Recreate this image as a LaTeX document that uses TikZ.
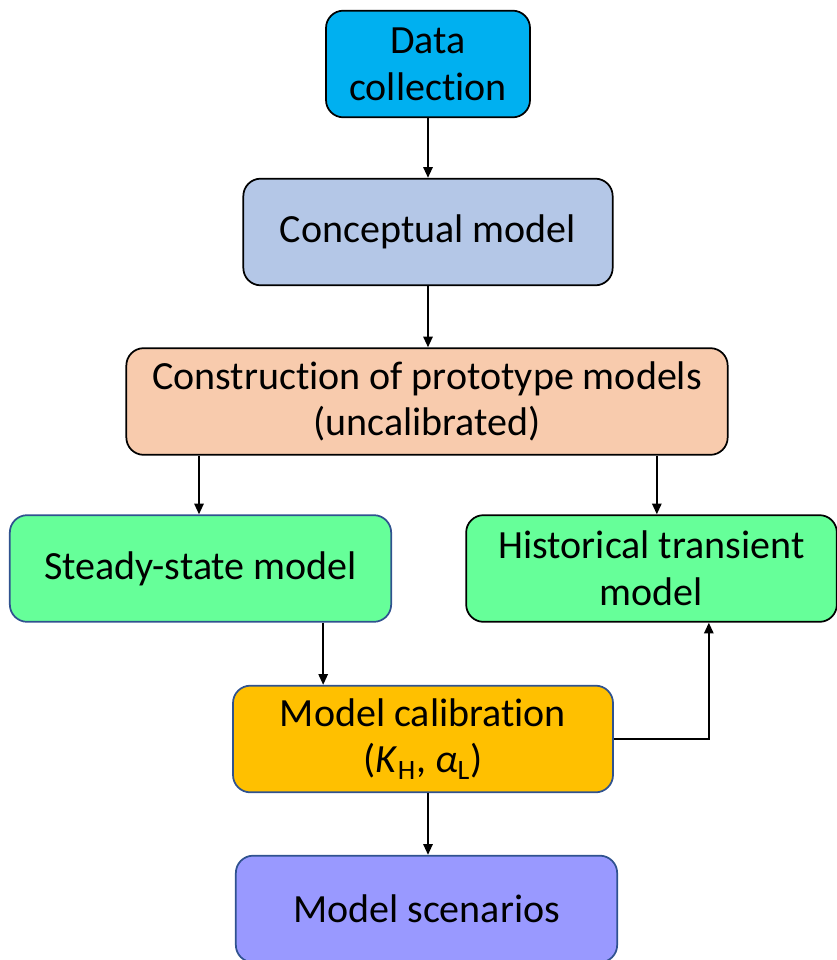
\documentclass[tikz,border=0pt]{standalone}
\usepackage{fontspec}
\setmainfont{Carlito}[Ligatures=NoCommon]
\usetikzlibrary{arrows.meta}

\definecolor{datacol}{HTML}{00B0F0}
\definecolor{conccol}{HTML}{B4C7E7}
\definecolor{protocol}{HTML}{F8CBAD}
\definecolor{modelcol}{HTML}{66FF99}
\definecolor{calibcol}{HTML}{FFC000}
\definecolor{scencol}{HTML}{9999FF}
\definecolor{edgeblue}{HTML}{2F528F}

\begin{document}
\begin{tikzpicture}[x=0.75pt,y=-0.75pt,
	box/.style={rectangle,rounded corners=13pt,draw=black,line width=1.3pt,align=center,
		minimum height=80pt,inner sep=0pt,font=\fontsize{30}{35}\selectfont},
	blue box/.style={box,draw=edgeblue},
	flow/.style={-{Triangle[length=8pt,width=7pt]},line width=1.3pt}
]

	\useasboundingbox (0,0) rectangle (837,960);

	\node[box,fill=datacol,minimum width=153pt] (data) at (428,64) {Data\\collection};
	\node[box,fill=conccol,minimum width=277pt] (concept) at (428,232) {Conceptual model};
	\node[box,fill=protocol,minimum width=451pt] (proto) at (427,401.5) {Construction of prototype models\\(uncalibrated)};
	\node[blue box,fill=modelcol,minimum width=286pt] (steady) at (200.5,568.5) {Steady-state model};
	\node[box,fill=modelcol,minimum width=278pt] (hist) at (651.5,568.5) {Historical transient\\model};
	\node[blue box,fill=calibcol,minimum width=285pt] (calib) at (423,739) {Model calibration\\(\textit{K}\textsubscript{H}, \textit{α}\textsubscript{L})};
	\node[blue box,fill=scencol,minimum width=286pt] (scen) at (426.5,909) {Model scenarios};

	% connectors
	\draw[flow] (data) -- (concept);
	\draw[flow] (concept) -- (concept |- proto.north);
	\draw[flow] ([xshift=-171pt]proto.south) -- ([xshift=-171pt]proto.south |- steady.north);
	\draw[flow] ([xshift=4pt]hist.north |- proto.south) -- ([xshift=4pt]hist.north);
	\draw[flow] ([xshift=92pt]steady.south) -- ([xshift=92pt]steady.south |- calib.north);
	\draw[flow] (calib.east) -| ([xshift=43pt]hist.south);
	\draw[flow] (calib.south -| data) -- (scen.north -| data);
\end{tikzpicture}
\end{document}
